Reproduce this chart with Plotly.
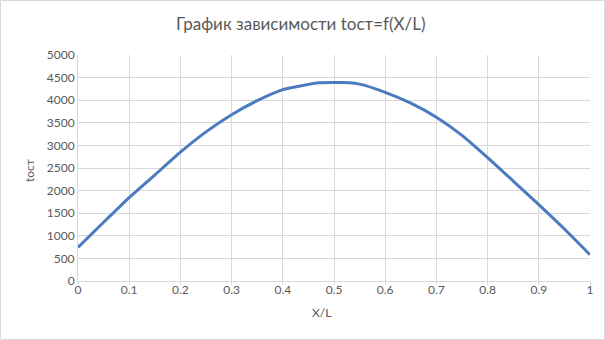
import plotly.graph_objects as go

# Data
x_over_L = [0, 0.05, 0.1, 0.15, 0.2, 0.25, 0.3, 0.35, 0.4, 0.45, 0.47, 0.5,
            0.53, 0.55, 0.6, 0.65, 0.7, 0.75, 0.8, 0.85, 0.9, 0.95, 1.0]
t_ost = [745, 1300, 1845, 2345, 2850, 3300, 3680, 3990, 4234, 4350, 4385, 4390,
         4388, 4355, 4175, 3935, 3625, 3223, 2730, 2212, 1690, 1150, 580]

title_text = "График зависимости tост=f(X/L)"
x_title = "X/L"
y_title = "tост"

W, H = 605, 340
ML, MR, MT, MB = 78, 15, 55, 59
PW, PH = W - ML - MR, H - MT - MB

def px_x(px):
    return (px - ML) / PW

def px_y(py):
    return (H - MB - py) / PH

FONT = "Lato, 'Open Sans', sans-serif"
GREY = "#595959"
GRID = "#D9D9D9"

fig = go.Figure()
fig.add_trace(go.Scatter(
    x=x_over_L, y=t_ost, mode="lines",
    line=dict(color="#4a7bbf", width=3, shape="spline", smoothing=0.6),
    hoverinfo="skip", showlegend=False,
))

fig.update_layout(
    width=W, height=H,
    margin=dict(l=ML, r=MR, t=MT, b=MB),
    paper_bgcolor="white", plot_bgcolor="white",
    font=dict(family=FONT, color=GREY, size=12),
    showlegend=False,
    xaxis=dict(
        range=[0, 1], dtick=0.1, tick0=0,
        showgrid=True, gridcolor=GRID, gridwidth=1,
        showline=True, linecolor=GRID, linewidth=1,
        ticks="outside", ticklen=3, tickcolor=GRID,
        ticklabelstandoff=-5,
        zeroline=False, tickfont=dict(size=12, color=GREY),
        fixedrange=True,
    ),
    yaxis=dict(
        range=[0, 5000], dtick=500, tick0=0,
        showgrid=True, gridcolor=GRID, gridwidth=1,
        showline=True, linecolor=GRID, linewidth=1,
        ticks="", zeroline=False, tickformat="d",
        tickfont=dict(size=12, color=GREY),
        fixedrange=True,
    ),
    annotations=[
        dict(text=title_text, x=px_x(301), y=px_y(24), xref="paper", yref="paper",
             showarrow=False, xanchor="center", yanchor="middle",
             font=dict(size=17, color=GREY, family=FONT)),
        dict(text=x_title, x=px_x(321), y=px_y(312), xref="paper", yref="paper",
             showarrow=False, xanchor="center", yanchor="middle",
             font=dict(size=12, color=GREY, family=FONT)),
        dict(text=y_title, x=px_x(29), y=px_y(171), xref="paper", yref="paper",
             showarrow=False, xanchor="center", yanchor="middle", textangle=-90,
             font=dict(size=12, color=GREY, family=FONT)),
    ],
    shapes=[
        dict(type="rect", xref="paper", yref="paper",
             x0=px_x(0.5), x1=px_x(604.5), y0=px_y(339.5), y1=px_y(0.5),
             line=dict(color=GRID, width=1), layer="below"),
    ],
)

fig.write_html("out.html", config={"displayModeBar": False})
